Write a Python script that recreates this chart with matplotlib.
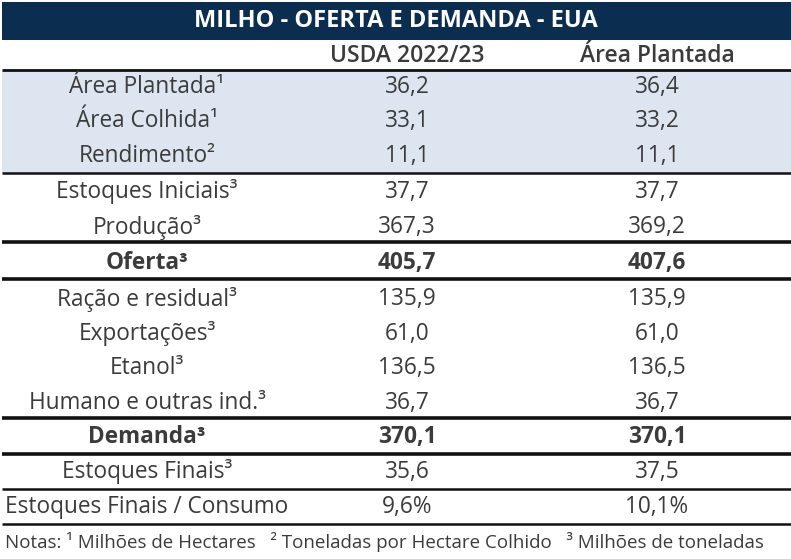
import matplotlib
matplotlib.use("Agg")
import matplotlib.pyplot as plt
from matplotlib.patches import Rectangle

# ---- data ----
titulo = "MILHO - OFERTA E DEMANDA - EUA"
colunas = ["USDA 2022/23", "Área Plantada"]
linhas = ["Área Plantada¹", "Área Colhida¹", "Rendimento²",
          "Estoques Iniciais³", "Produção³", "Oferta³",
          "Ração e residual³", "Exportações³", "Etanol³", "Humano e outras ind.³",
          "Demanda³", "Estoques Finais³", "Estoques Finais / Consumo"]
usda = ["36,2", "33,1", "11,1", "37,7", "367,3", "405,7",
        "135,9", "61,0", "136,5", "36,7", "370,1", "35,6", "9,6%"]
area_plantada = ["36,4", "33,2", "11,1", "37,7", "369,2", "407,6",
                 "135,9", "61,0", "136,5", "36,7", "370,1", "37,5", "10,1%"]
notas = "Notas: ¹ Milhões de Hectares   ² Toneladas por Hectare Colhido   ³ Milhões de toneladas"

linhas_negrito = ["Oferta³", "Demanda³"]

# ---- layout (pixels) ----
W, H = 791, 559
centros_y = [87, 121, 156, 192, 227, 263, 299, 334, 368, 403, 437, 472, 507]
col_x = [147, 407, 657]
# (y, largura)
divisorias = [(70, 2.0), (173, 1.8), (242, 2.6), (279, 2.6),
              (418, 2.6), (454, 2.6), (489, 1.8), (524, 1.8)]

TXT = "#3b3b3b"
NAVY = "#0b2d50"
SHADE = "#dde6f0"

plt.rcParams['font.family'] = ['Open Sans', 'DejaVu Sans']

fig = plt.figure(figsize=(W / 100, H / 100), dpi=100)
ax = fig.add_axes([0, 0, 1, 1])
ax.set_xlim(0, W)
ax.set_ylim(H, 0)
ax.axis("off")

# barra do titulo
ax.add_patch(Rectangle((2, 2), W - 2, 38, color=NAVY, lw=0))
ax.text(W / 2, 21, titulo, color="white", fontsize=17, fontweight="bold",
        ha="center", va="center")

# faixa sombreada
ax.add_patch(Rectangle((2, 71), W - 2, 102, color=SHADE, lw=0))

# cabecalho
for x, c in zip(col_x[1:], colunas):
    ax.text(x, 56, c, color=TXT, fontsize=16.5, fontweight="semibold",
            ha="center", va="center")

for y, lab, v1, v2 in zip(centros_y, linhas, usda, area_plantada):
    peso = "bold" if lab in linhas_negrito else "normal"
    for x, t in zip(col_x, [lab, v1, v2]):
        ax.text(x, y, t, color=TXT, fontsize=16.3, fontweight=peso,
                ha="center", va="center")

for y, lw in divisorias:
    ax.plot([2, W], [y, y], color="#111111", lw=lw, solid_capstyle="butt")

ax.text(5, 542, notas, color=TXT, fontsize=13.5, ha="left", va="center")

fig.savefig("out.png", dpi=100)
